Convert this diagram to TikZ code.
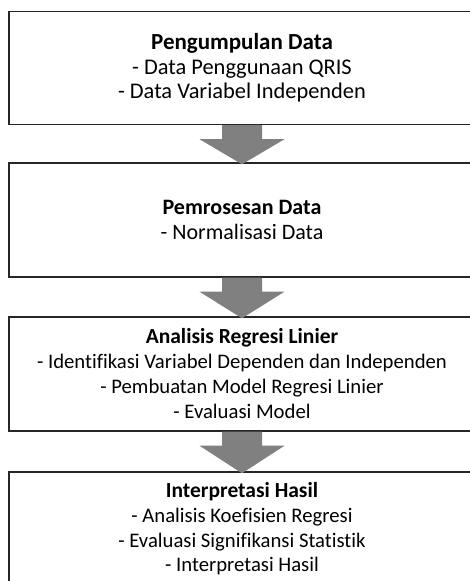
\documentclass[tikz,border=0pt]{standalone}
\usepackage{fontspec}
\setmainfont{Carlito}[Ligatures=CommonOff]
\usetikzlibrary{calc}
\tikzset{
  stagebox/.style={draw=black!85, line width=1.4pt, fill=white, rectangle,
    minimum width=466pt, align=center, inner sep=0pt},
  flowarrow/.style={fill=black!50, draw=none}
}
\newcommand{\ttl}[2]{{\fontsize{#1}{25}\selectfont\bfseries #2}}
\begin{document}
\begin{tikzpicture}[x=1pt,y=-1pt]
\useasboundingbox (0,0) rectangle (469,581);
\node[stagebox, minimum height=113pt, font=\fontsize{22.4}{24.5}\selectfont] (b1) at (242,68)
  {\ttl{23}{Pengumpulan Data}\\- Data Penggunaan QRIS\\- Data Variabel Independen};
\node[stagebox, minimum height=114pt, font=\fontsize{22}{25}\selectfont] (b2) at (242,220)
  {\ttl{22}{Pemrosesan Data}\\- Normalisasi Data};
\node[stagebox, minimum height=114pt, font=\fontsize{20.7}{25}\selectfont] (b3) at (242,374)
  {\ttl{21.5}{Analisis Regresi Linier}\\- Identifikasi Variabel Dependen dan Independen\\- Pembuatan Model Regresi Linier\\- Evaluasi Model};
\node[stagebox, minimum height=114pt, font=\fontsize{20.7}{24.7}\selectfont] (b4) at (242,529)
  {\ttl{21.5}{Interpretasi Hasil}\\- Analisis Koefisien Regresi\\- Evaluasi Signifikansi Statistik\\- Interpretasi Hasil};
\foreach \a/\b in {b1/b2, b2/b3, b3/b4}{
  \fill[flowarrow] ($(\a.south)+(-20,0)$) -- ($(\a.south)+(20,0)$)
    -- ($(\a.south)+(20,14)$) -- ($(\a.south)+(42.5,14)$)
    -- ($(\b.north)+(0,2)$)
    -- ($(\a.south)+(-42.5,14)$) -- ($(\a.south)+(-20,14)$) -- cycle;
}
\end{tikzpicture}
\end{document}
